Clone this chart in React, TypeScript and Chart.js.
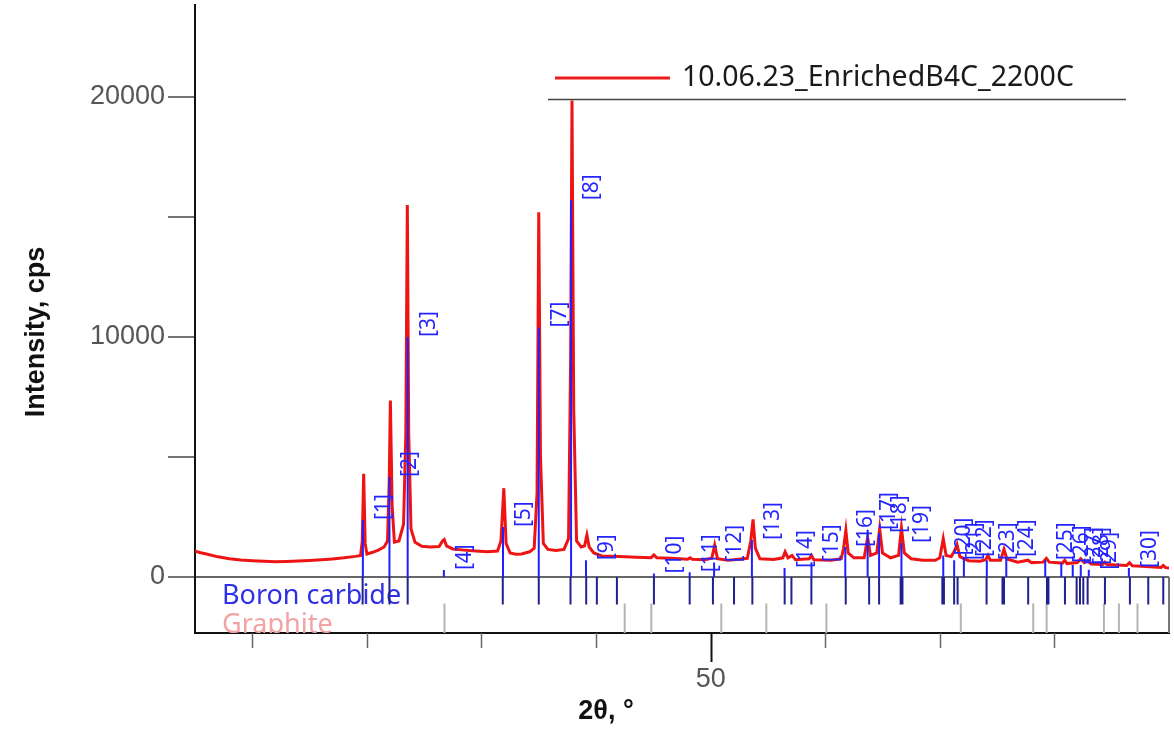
import React, { useEffect, useRef } from "react";
import { Chart, registerables } from "chart.js";

Chart.register(...registerables);

// ---------- data ----------
const SERIES_NAME = "10.06.23_EnrichedB4C_2200C";

// measured profile (2θ in degrees, intensity in cps)
const PROFILE_ANGLE = [
  5.0, 5.5, 6.0, 7.0, 8.0, 9.0, 10.0, 11.0, 12.0, 13.0, 14.0, 15.0, 16.0, 17.0, 18.0, 19.0,
  19.45, 19.6, 19.72, 19.85, 20.0, 20.5, 21.0, 21.5, 21.8, 21.95, 22.05, 22.2, 22.4, 22.8,
  23.2, 23.4, 23.53, 23.65, 23.85, 24.2, 24.8, 25.5, 26.3, 26.6, 26.75, 26.95, 27.5, 28.5,
  29.5, 30.5, 31.4, 31.7, 31.95, 32.15, 32.5, 33.0, 33.5, 34.2, 34.6, 34.85, 35.0, 35.15,
  35.4, 35.8, 36.5, 37.2, 37.6, 37.78, 37.9, 38.05, 38.3, 38.7, 39.0, 39.2, 39.4, 39.8,
  40.5, 42.0, 43.5, 44.8, 45.05, 45.3, 46.5, 48.0, 48.2, 48.4, 49.5, 50.1, 50.35, 50.6,
  51.5, 52.0, 53.2, 53.5, 53.7, 53.9, 54.3, 55.5, 56.3, 56.5, 56.75, 57.1, 57.4, 58.6,
  58.8, 59.0, 60.5, 61.4, 61.6, 61.8, 62.0, 62.5, 63.4, 63.7, 63.95, 64.5, 64.75, 65.0,
  65.7, 66.4, 66.65, 66.9, 67.5, 68.5, 69.6, 70.0, 70.3, 70.55, 71.0, 71.3, 71.5, 71.75,
  72.5, 73.5, 74.0, 74.2, 74.4, 75.3, 75.6, 75.85, 76.8, 77.7, 78.0, 79.0, 79.3, 79.55,
  80.7, 80.9, 81.1, 82.0, 82.3, 82.6, 82.9, 83.2, 84.2, 84.4, 84.6, 86.3, 86.55, 86.8,
  88.0, 89.3, 89.5, 89.7, 90.0,
];
const PROFILE_CPS = [
  1080, 1010, 960, 840, 760, 710, 680, 655, 640, 650, 665, 690, 720, 755, 800, 860,
  900, 1500, 4300, 1400, 960, 1030, 1120, 1250, 1500, 4000, 7350, 3000, 1450, 1500,
  2200, 6000, 15500, 6000, 2000, 1450, 1280, 1250, 1270, 1500, 1560, 1300, 1170, 1120,
  1080, 1050, 1080, 1500, 3700, 1400, 1000, 950, 960, 1050, 1200, 3500, 15200, 5000,
  1400, 1150, 1100, 1150, 1600, 9000, 19850, 7000, 1500, 1250, 1300, 1750, 1250, 1000,
  880, 850, 820, 800, 920, 800, 780, 740, 800, 740, 720, 780, 1330, 760,
  700, 720, 780, 1500, 2400, 1200, 760, 730, 800, 1050, 800, 900, 720, 760,
  900, 720, 700, 760, 1200, 1950, 1000, 800, 800, 1650, 900, 1000, 2000, 1000,
  800, 900, 2050, 1000, 760, 700, 700, 800, 1600, 900, 850, 1100, 1350, 850,
  680, 660, 720, 900, 700, 700, 1150, 750, 620, 700, 600, 620, 780, 620,
  580, 700, 560, 600, 760, 600, 680, 540, 520, 620, 520, 480, 600, 470,
  440, 400, 480, 390, 380,
];

// identified peak markers drawn in the main plot
const PEAK_LABELS = [
  "[1]", "[2]", "[3]", "[4]", "[5]", "[7]", "[8]", "[9]", "[10]", "[11]", "[12]", "[13]",
  "[14]", "[15]", "[16]", "[17]", "[18]", "[19]", "[20]", "[21]", "[22]", "[23]", "[24]",
  "[25]", "[26]", "[27]", "[28]", "[29]", "[30]",
];
const PEAK_ANGLE = [
  19.65, 21.97, 23.56, 26.72, 31.88, 35.0, 37.82, 39.12, 45.05, 48.17, 50.3, 53.6,
  56.45, 58.8, 61.75, 63.7, 64.7, 66.65, 70.3, 71.25, 72.1, 74.1, 75.8,
  79.2, 80.6, 81.6, 82.3, 83.0, 86.5,
];
const PEAK_CPS = [
  2380, 4170, 10000, 290, 2080, 10400, 15700, 700, 150, 200, 600, 1540,
  380, 620, 1250, 1960, 1830, 1420, 900, 700, 830, 700, 830,
  700, 580, 500, 500, 300, 375,
];

// reference phase stick patterns
const PHASE_NAMES = ["Boron carbide", "Graphite"];
const B4C_REF_ANGLE = [
  19.63, 21.97, 23.56, 31.86, 35.0, 37.77, 39.14, 40.07, 41.82, 45.05, 48.17, 50.2,
  52.04, 53.64, 56.46, 57.05, 58.79, 61.79, 63.83, 64.7, 66.58, 66.74, 70.22, 70.36,
  71.25, 71.55, 74.08, 75.47, 75.6, 77.71, 79.35, 79.48, 80.92, 81.94, 82.23, 82.52,
  82.9, 84.41, 86.59, 88.19, 89.5,
];
const GRAPHITE_REF_ANGLE = [
  26.77, 42.5, 44.82, 50.93, 54.86, 60.1, 71.83, 78.15, 79.32, 84.32, 85.63, 87.25,
];

// axis ticks
const X_TICKS = [10, 20, 30, 40, 50, 60, 70, 80];
const X_LABELED = [50];
const Y_TICKS = [0, 5000, 10000, 15000, 20000];
const Y_LABELED = [0, 10000, 20000];

// value ranges of the two rows of the phase panel (below zero)
const B4C_ROW = [0, -1150];
const GRAPHITE_ROW = [-1100, -2400];
const B4C_TEXT_ROW = -790;
const GRAPHITE_TEXT_ROW = -2000;

// ---------- helpers ----------
function sticks(angles: number[], lo: number[] | number, hi: number[] | number) {
  const pts: { x: number; y: number | null }[] = [];
  angles.forEach((a, i) => {
    const y0 = Array.isArray(lo) ? lo[i] : lo;
    const y1 = Array.isArray(hi) ? hi[i] : hi;
    pts.push({ x: a, y: y0 }, { x: a, y: y1 }, { x: a, y: null });
  });
  return pts;
}

const FONT_SANS = '"Liberation Sans", Arial, sans-serif';
const FONT_UI = '"Noto Sans", "Open Sans", sans-serif';

const overlay = {
  id: "overlay",
  beforeDatasetsDraw(chart: any) {
    const { ctx, chartArea, scales } = chart;
    const y = scales.y;
    ctx.save();
    ctx.beginPath();
    ctx.rect(chartArea.left, chartArea.top, chartArea.right - chartArea.left, chartArea.bottom - chartArea.top);
    ctx.clip();
    ctx.font = `27px ${FONT_UI}`;
    ctx.textAlign = "left";
    ctx.textBaseline = "middle";
    ctx.fillStyle = "#2f2fe6";
    ctx.fillText(PHASE_NAMES[0], chartArea.left + 27, y.getPixelForValue(B4C_TEXT_ROW));
    ctx.fillStyle = "#f2a4a4";
    ctx.fillText(PHASE_NAMES[1], chartArea.left + 27, y.getPixelForValue(GRAPHITE_TEXT_ROW));
    ctx.restore();
  },
  afterDatasetsDraw(chart: any) {
    const { ctx, chartArea, scales } = chart;
    const x = scales.x;
    const y = scales.y;
    // peak labels, rotated
    ctx.save();
    ctx.font = `21px ${FONT_UI}`;
    ctx.fillStyle = "#2424ff";
    ctx.textAlign = "left";
    ctx.textBaseline = "middle";
    PEAK_LABELS.forEach((t, i) => {
      const px = x.getPixelForValue(PEAK_ANGLE[i]) + 21;
      const py = y.getPixelForValue(PEAK_CPS[i]);
      ctx.save();
      ctx.translate(px, py);
      ctx.rotate(-Math.PI / 2);
      ctx.fillText(t, 0, 0);
      ctx.restore();
    });
    ctx.restore();

    // phase panel right border
    ctx.save();
    ctx.strokeStyle = "#777";
    ctx.lineWidth = 2;
    ctx.beginPath();
    ctx.moveTo(chartArea.right, y.getPixelForValue(0));
    ctx.lineTo(chartArea.right, chartArea.bottom);
    ctx.stroke();
    ctx.restore();
  },
  afterDraw(chart: any) {
    const { ctx, chartArea, scales } = chart;
    const x = scales.x;
    // x ticks (minor short, labelled one long)
    ctx.save();
    X_TICKS.forEach((v) => {
      const px = Math.round(x.getPixelForValue(v)) + 0.5;
      const major = X_LABELED.includes(v);
      ctx.strokeStyle = major ? "#111" : "#666";
      ctx.lineWidth = major ? 2 : 1.5;
      ctx.beginPath();
      ctx.moveTo(px, chartArea.bottom);
      ctx.lineTo(px, chartArea.bottom + (major ? 29 : 15));
      ctx.stroke();
    });
    ctx.restore();

    // axis titles
    ctx.save();
    ctx.fillStyle = "#111";
    ctx.font = `bold 27px ${FONT_SANS}`;
    ctx.textAlign = "center";
    ctx.textBaseline = "middle";
    ctx.fillText("2θ, °", 606, 712);
    ctx.translate(37, 332);
    ctx.rotate(-Math.PI / 2);
    ctx.fillText("Intensity, cps", 0, 0);
    ctx.restore();

    // legend
    ctx.save();
    ctx.strokeStyle = "#ee1c1c";
    ctx.lineWidth = 3;
    ctx.beginPath();
    ctx.moveTo(555, 78);
    ctx.lineTo(670, 78);
    ctx.stroke();
    ctx.fillStyle = "#1a1a1a";
    ctx.font = `28.5px ${FONT_UI}`;
    ctx.textAlign = "left";
    ctx.textBaseline = "middle";
    ctx.fillText(SERIES_NAME, 682, 78);
    ctx.strokeStyle = "#444";
    ctx.lineWidth = 1.5;
    ctx.beginPath();
    ctx.moveTo(548, 99.5);
    ctx.lineTo(1126, 99.5);
    ctx.stroke();
    ctx.restore();
  },
};

export default function App() {
  const ref = useRef<HTMLCanvasElement | null>(null);

  useEffect(() => {
    if (!ref.current) return;
    const profile = PROFILE_ANGLE.map((a, i) => ({ x: a, y: PROFILE_CPS[i] }));
    const chart = new Chart(ref.current, {
      type: "line",
      data: {
        datasets: [
          {
            label: "peaks",
            data: sticks(PEAK_ANGLE, 0, PEAK_CPS),
            borderColor: "#1f1fff",
            borderWidth: 2,
            pointRadius: 0,
            spanGaps: false,
            order: 0,
          },
          {
            label: SERIES_NAME,
            data: profile,
            borderColor: "#ee1414",
            borderWidth: 3,
            pointRadius: 0,
            tension: 0,
            order: 1,
          },
          {
            label: PHASE_NAMES[0],
            data: sticks(B4C_REF_ANGLE, B4C_ROW[0], B4C_ROW[1]),
            borderColor: "#22228f",
            borderWidth: 2,
            pointRadius: 0,
            spanGaps: false,
            order: 2,
          },
          {
            label: PHASE_NAMES[1],
            data: sticks(GRAPHITE_REF_ANGLE, GRAPHITE_ROW[0], GRAPHITE_ROW[1]),
            borderColor: "#b4b4b4",
            borderWidth: 2,
            pointRadius: 0,
            spanGaps: false,
            order: 3,
          },
        ],
      },
      options: {
        animation: false,
        responsive: true,
        maintainAspectRatio: false,
        devicePixelRatio: 1,
        layout: { padding: { left: 0, right: 5, top: 5, bottom: 0 } },
        plugins: { legend: { display: false }, tooltip: { enabled: false } },
        scales: {
          x: {
            type: "linear",
            min: 5,
            max: 90,
            afterBuildTicks: (s: any) => {
              s.ticks = X_TICKS.map((v) => ({ value: v }));
            },
            afterFit: (s: any) => {
              s.height = 97;
              s.paddingLeft = 0;
              s.paddingRight = 0;
            },
            ticks: {
              autoSkip: false,
              maxRotation: 0,
              padding: 30,
              color: "#555",
              font: { size: 27, family: FONT_SANS },
              callback: (v: any) => (X_LABELED.includes(Number(v)) ? String(v) : ""),
            },
            grid: { display: false, drawTicks: false },
            border: { display: true, color: "#111", width: 2 },
          },
          y: {
            type: "linear",
            min: -2333,
            max: 23833,
            afterBuildTicks: (s: any) => {
              s.ticks = Y_TICKS.map((v) => ({ value: v }));
            },
            afterFit: (s: any) => {
              s.width = 195;
              s.paddingTop = 0;
              s.paddingBottom = 0;
            },
            ticks: {
              padding: 3,
              color: "#555",
              font: { size: 27, family: FONT_SANS },
              callback: (v: any) => (Y_LABELED.includes(Number(v)) ? String(v) : ""),
            },
            grid: {
              drawOnChartArea: true,
              drawTicks: true,
              tickLength: 27,
              tickColor: "#444",
              tickWidth: 1.5,
              lineWidth: 2,
              color: (c: any) => (c.tick && c.tick.value === 0 ? "#666" : "rgba(0,0,0,0)"),
            },
            border: { display: true, color: "#111", width: 2 },
          },
        },
      },
      plugins: [overlay],
    });
    return () => chart.destroy();
  }, []);

  return (
    <div style={{ position: "absolute", left: 0, top: 0, width: 1174, height: 730, background: "#fff" }}>
      <canvas ref={ref} />
    </div>
  );
}
